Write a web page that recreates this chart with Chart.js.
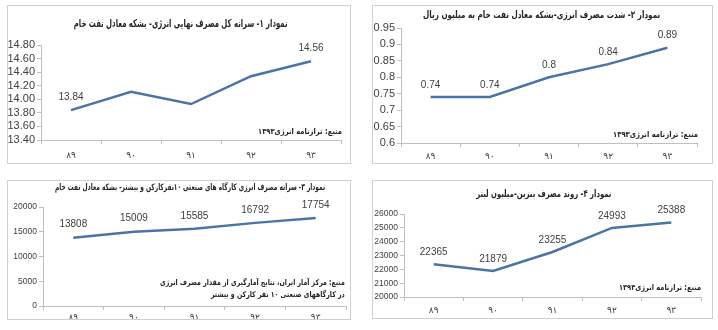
<!DOCTYPE html>
<html>
<head>
<meta charset="utf-8">
<script src="https://cdn.jsdelivr.net/npm/chart.js@4/dist/chart.umd.min.js"></script>
<style>
  body { margin: 0; width: 718px; height: 330px; background: #fff; position: relative; overflow: hidden; }
  .panel { position: absolute; border: 1px solid #d0d0d0; overflow: hidden; box-sizing: border-box; }
  .panel canvas { position: absolute; left: 0; top: 0; }
  .title, .src { position: absolute; direction: rtl; white-space: nowrap; font-family: "DejaVu Sans", sans-serif; font-weight: bold; color: #262626; transform-origin: right center; }
  .title { font-size: 10px; }
  .src { font-size: 8px; line-height: 12px; text-align: right; }
</style>
</head>
<body>
<div class="panel" id="p1" style="left:7px;top:5px;width:344px;height:159px"><canvas id="c1"></canvas></div>
<div class="panel" id="p2" style="left:372px;top:5px;width:341px;height:159px"><canvas id="c2"></canvas></div>
<div class="panel" id="p3" style="left:7px;top:180px;width:344px;height:140px"><canvas id="c3"></canvas></div>
<div class="panel" id="p4" style="left:372px;top:180px;width:341px;height:139px"><canvas id="c4"></canvas></div>

<div class="title" data-w="214" style="right:431px;top:17px;font-size:11px">نمودار ۱- سرانه کل مصرف نهایی انرژی- بشکه معادل نفت خام</div>
<div class="title" data-w="237" style="right:58px;top:9px">نمودار ۲- شدت مصرف انرژی-بشکه معادل نفت خام به میلیون ریال</div>
<div class="title" data-w="270" style="right:393px;top:182px;font-size:9px">نمودار ۳- سرانه مصرف انرژی کارگاه های صنعتی ۱۰نفرکارکن و بیشتر- بشکه معادل نفت خام</div>
<div class="title" data-w="135" style="right:107px;top:188px">نمودار ۴- روند مصرف بنزین-میلیون لیتر</div>

<div class="src" data-w="84" style="right:376px;top:126px">منبع: ترازنامه انرژی۱۳۹۳</div>
<div class="src" data-w="85" style="right:20px;top:129px">منبع: ترازنامه انرژی۱۳۹۳</div>
<div class="src" data-w="185" style="right:373px;top:277px">منبع: مرکز آمار ایران، نتایج آمارگیری از مقدار مصرف انرژی<br>در کارگاههای صنعتی ۱۰ نفر کارکن و بیشتر</div>
<div class="src" data-w="82" style="right:17px;top:282px">منبع: ترازنامه انرژی۱۳۹۳</div>

<script>
// years (Persian calendar), shared by all four charts
var years = ['۸۹', '۹۰', '۹۱', '۹۲', '۹۳'];

// chart 1: per-capita final energy use, barrels of oil equivalent
var perCapita = [13.84, 14.11, 13.93, 14.34, 14.56];
// chart 2: energy intensity, barrels per million rials
var intensity = [0.74, 0.74, 0.8, 0.84, 0.89];
// chart 3: per-capita energy use, industrial workshops 10+ workers
var workshops = [13808, 15009, 15585, 16792, 17754];
// chart 4: gasoline consumption, million litres
var gasoline = [22365, 21879, 23255, 24993, 25388];

var LINE = '#4a74a8';
var AXIS = '#bfbfbf';
var TXT = '#404040';

// the Persian text only comes in DejaVu, which is wide: squeeze to the original width
document.querySelectorAll('.title, .src').forEach(function(el) {
  var w = +el.dataset.w;
  el.style.transform = 'scaleX(' + (w / el.offsetWidth) + ')';
});

// draws the value above the chosen points
var valueLabels = {
  id: 'valueLabels',
  afterDatasetsDraw: function(chart, args, opts) {
    var ctx = chart.ctx;
    var meta = chart.getDatasetMeta(0);
    var data = chart.data.datasets[0].data;
    ctx.save();
    ctx.font = opts.size + 'px "Liberation Sans", Arial, sans-serif';
    ctx.fillStyle = TXT;
    ctx.textAlign = 'center';
    ctx.textBaseline = 'middle';
    opts.show.forEach(function(i) {
      var pt = meta.data[i];
      ctx.fillText(String(data[i]), pt.x, pt.y - opts.gap);
    });
    ctx.restore();
  }
};

function makeChart(id, box, area, values, yMin, yMax, step, yFmt, show, fonts, extraH) {
  var canvas = document.getElementById(id);
  canvas.width = box.w;
  canvas.height = box.h + (extraH || 0);
  var xh = 22;
  new Chart(canvas, {
    type: 'line',
    data: {
      labels: years,
      datasets: [{
        data: values,
        borderColor: LINE,
        borderWidth: 2.5,
        pointRadius: 0,
        tension: 0,
        fill: false
      }]
    },
    options: {
      responsive: false,
      animation: false,
      devicePixelRatio: 1,
      layout: {
        padding: {
          left: 0,
          top: area.t - box.y,
          right: box.x + box.w - area.r,
          bottom: box.y + box.h + (extraH || 0) - area.b - xh
        }
      },
      plugins: {
        legend: { display: false },
        tooltip: { enabled: false },
        valueLabels: { show: show, gap: fonts.gap, size: fonts.label }
      },
      scales: {
        x: {
          offset: true,
          grid: { display: true, drawOnChartArea: false, offset: true, color: AXIS, tickLength: 4 },
          border: { color: AXIS },
          ticks: { color: TXT, padding: fonts.xpad, font: { size: fonts.x, family: '"DejaVu Sans", sans-serif' } },
          afterFit: function(s) { s.height = xh; }
        },
        y: {
          min: yMin,
          max: yMax,
          grid: { display: true, drawOnChartArea: false, color: AXIS, tickLength: 4 },
          border: { color: AXIS },
          ticks: {
            stepSize: step,
            autoSkip: false,
            color: TXT,
            padding: 2,
            font: { size: fonts.y, family: '"Liberation Sans", Arial, sans-serif' },
            callback: function(v) { return yFmt(v); }
          },
          afterFit: function(s) { s.width = area.l - box.x; }
        }
      }
    },
    plugins: [valueLabels]
  });
}

makeChart('c1', { x: 7, y: 5, w: 344, h: 159 }, { l: 40, t: 44, r: 340, b: 139 },
  perCapita, 13.4, 14.8, 0.2, function(v) { return v.toFixed(2); }, [0, 4],
  { y: 11, x: 9, label: 10, gap: 13, xpad: 6 });

makeChart('c2', { x: 372, y: 5, w: 341, h: 159 }, { l: 400, t: 27, r: 696, b: 142 },
  intensity, 0.6, 0.95, 0.05, function(v) { return String(Math.round(v * 100) / 100); }, [0, 1, 2, 3, 4],
  { y: 11, x: 9, label: 10, gap: 12, xpad: 4 });

makeChart('c3', { x: 7, y: 180, w: 344, h: 140 }, { l: 42, t: 206, r: 345, b: 305 },
  workshops, 0, 20000, 5000, function(v) { return String(v); }, [0, 1, 2, 3, 4],
  { y: 8.5, x: 9, label: 10, gap: 13, xpad: 2 }, 12);

makeChart('c4', { x: 372, y: 180, w: 341, h: 139 }, { l: 403, t: 213, r: 700, b: 296 },
  gasoline, 20000, 26000, 1000, function(v) { return String(v); }, [0, 1, 2, 3, 4],
  { y: 8.5, x: 9, label: 10, gap: 12, xpad: 4 });
</script>
</body>
</html>
